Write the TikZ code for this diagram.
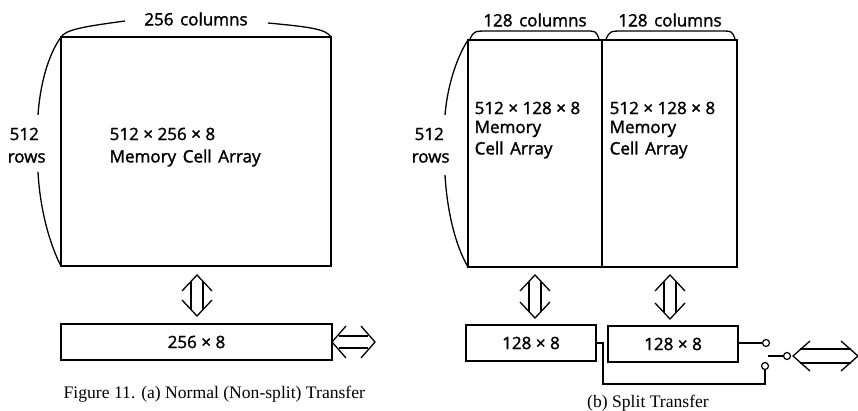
\documentclass[tikz,border=0pt]{standalone}
\usepackage{fontspec}
\setmainfont{Liberation Serif}
\newfontfamily\diagfont[WordSpace=1.5,FakeBold=1.6]{Open Sans}
\newcommand\tms{\hspace{4.5pt}×\hspace{4.5pt}}
\begin{document}
\begin{tikzpicture}[x=1pt,y=-1pt,
  line width=1.4pt,
  cellbox/.style={draw, inner sep=0pt, outer sep=0pt, anchor=north west},
  lbl/.style={inner sep=0pt, font=\diagfont\fontsize{17}{19}\selectfont},
  captext/.style={inner sep=0pt, font=\fontsize{17.6}{20}\selectfont},
  brace/.style={line width=1.3pt},
  wire/.style={line width=1.3pt},
  contact/.style={circle, draw, line width=1.2pt, minimum size=7pt, inner sep=0pt, fill=white},
  harrow/.style={line width=1.3pt, line join=miter}
]
\useasboundingbox (0,0) rectangle (858,411);

% ---------------- (a) ----------------
\node[cellbox, minimum width=270pt, minimum height=229pt] (arrA) at (61,37) {};
\node[lbl, anchor=west] (dimA) at (109,134) {512\tms256\tms8};
\node[lbl, anchor=west] (nameA) at (109,158) {Memory Cell Array};
\node[lbl] (colA) at (196,19) {256 columns};
\node[lbl, anchor=west] (rowsnA) at (9,134) {512};
\node[lbl, anchor=west] (rowsA) at (7,158) {rows};
\draw[brace] (arrA.north west) .. controls (66,30) and (80,27) .. (125,21);
\draw[brace] (268,23) .. controls (310,27) and (326,29) .. (arrA.north east);
\draw[brace] (arrA.north west) .. controls (48,55) and (40,85) .. (38,115);
\draw[brace] (38,172) .. controls (40,210) and (50,245) .. (arrA.south west);

\node[cellbox, minimum width=271pt, minimum height=36pt] (regA) at (61,324) {};
\node[lbl] at (regA.center) {256\tms8};

% vertical hollow arrow (a)
\begin{scope}[harrow]
\draw (182,291) -- (197,275) -- (212,291);
\draw (182,300) -- (197,316) -- (212,300);
\draw (191,282) -- (191,309);
\draw (203,282) -- (203,309);
\end{scope}
% horizontal hollow arrow (a)
\begin{scope}[harrow]
\draw (346,326) -- (332,342) -- (346,358);
\draw (361,326) -- (375,342) -- (361,358);
\draw (339,336) -- (368,336);
\draw (339,348) -- (368,348);
\end{scope}

\node[captext, anchor=west] (capA) at (63,394) {Figure 11. (a) Normal (Non-split) Transfer};

% ---------------- (b) ----------------
\node[cellbox, minimum width=134pt, minimum height=227pt] (arrB1) at (468,40) {};
\node[cellbox, minimum width=135pt, minimum height=227pt] (arrB2) at (602,40) {};
\node[lbl, anchor=west] at (474,108) {512\tms128\tms8};
\node[lbl, anchor=west] at (474,129) {Memory};
\node[lbl, anchor=west] at (474,150) {Cell Array};
\node[lbl, anchor=west] at (609,108) {512\tms128\tms8};
\node[lbl, anchor=west] at (609,129) {Memory};
\node[lbl, anchor=west] at (609,150) {Cell Array};
\node[lbl] (colB1) at (535,20) {128 columns};
\node[lbl] (colB2) at (670,20) {128 columns};
\node[lbl, anchor=west] at (414,134) {512};
\node[lbl, anchor=west] at (411,158) {rows};
\draw[brace] (470,39) .. controls (474,31) .. (490,31) -- (585,31) .. controls (596,31) .. (599,39);
\draw[brace] (606,39) .. controls (610,31) .. (625,31) -- (720,31) .. controls (732,31) .. (735,39);
\draw[brace] (arrB1.north west) .. controls (455,60) and (447,90) .. (445,115);
\draw[brace] (445,175) .. controls (447,210) and (455,245) .. (arrB1.south west);

\node[cellbox, minimum width=130pt, minimum height=36pt] (regB1) at (466,325) {};
\node[lbl] at (regB1.center) {128\tms8};
\node[cellbox, minimum width=130pt, minimum height=36pt] (regB2) at (608,326) {};
\node[lbl] at (regB2.center) {128\tms8};

\begin{scope}[harrow]
\draw (520,291) -- (535,275) -- (550,291);
\draw (520,302) -- (535,318) -- (550,302);
\draw (529,282) -- (529,311);
\draw (541,282) -- (541,311);
\draw (655,291) -- (670,275) -- (685,291);
\draw (655,303) -- (670,319) -- (685,303);
\draw (664,282) -- (664,312);
\draw (676,282) -- (676,312);
\end{scope}

% switch
\node[contact] (cTop) at (766,343) {};
\node[contact] (cBot) at (765,366) {};
\node[contact] (cPiv) at (787,356) {};
\coordinate (blade) at (768,356);
\draw[wire] (regB2.east |- cTop) -- (cTop.west);
\draw[wire] (regB1.east |- cTop) -- (603,343) -- (603,384) -- (765,384) -- (cBot.south);
\draw[wire] (blade) -- (cPiv.west);

\begin{scope}[harrow]
\draw (810,341) -- (793,356) -- (810,371);
\draw (841,341) -- (858,356) -- (841,371);
\draw (800,349) -- (851,349);
\draw (800,363) -- (851,363);
\end{scope}

\node[captext] (capB) at (648,403) {(b) Split Transfer};
\end{tikzpicture}
\end{document}
